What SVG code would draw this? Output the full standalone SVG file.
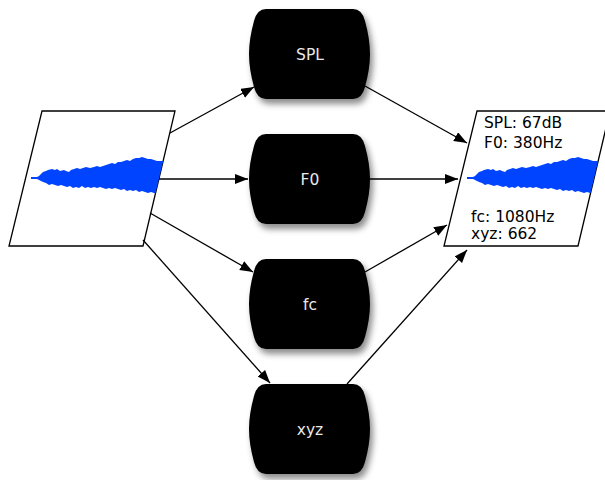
<svg xmlns="http://www.w3.org/2000/svg" width="605" height="480" viewBox="0 0 605 480">
<style>
.para{fill:#fff;stroke:#000;stroke-width:1.3}
.node{fill:#000;filter:url(#sh)}
.nl{font-family:"DejaVu Sans",Verdana,sans-serif;font-size:15.5px;fill:#e8e8e8;text-anchor:middle}
.pl{font-family:"DejaVu Sans",Verdana,sans-serif;font-size:15.5px;fill:#000}
.wave{fill:#0044ff}
.edge{stroke:#000;stroke-width:1.3;fill:none;marker-end:url(#ah)}
</style>
<defs>
<filter id="sh" x="-20%" y="-20%" width="140%" height="150%">
<feDropShadow dx="3" dy="5" stdDeviation="3" flood-color="#000" flood-opacity="0.45"/>
</filter>
<marker id="ah" markerUnits="userSpaceOnUse" markerWidth="14" markerHeight="12" refX="13" refY="5" orient="auto">
<path d="M0,0 L13,5 L0,10 Z" fill="#000"/>
</marker>
<clipPath id="cl"><polygon points="42,111 175,111 143,246 9,246"/></clipPath>
<clipPath id="cr"><polygon points="477,111 610,111 578,246 444,246"/></clipPath>
<path id="wv" class="wave" d="M31,177 L37,177 L39,176 L41,174 L43,172 L46,171 L48,170 L52,169 L55,170 L57,169 L60,171 L64,170 L66,171 L69,172 L71,170 L74,169 L77,168 L80,169 L83,168 L86,167 L90,168 L94,167 L97,166 L100,167 L103,166 L106,165 L109,164 L112,163 L115,164 L118,162 L121,162 L124,161 L127,160 L130,161 L133,159 L136,158 L139,158 L142,157 L145,158 L148,159 L151,159 L154,160 L157,161 L160,161 L166,161 L166,195 L160,193 L157,194 L154,193 L151,192 L148,193 L145,192 L142,191 L139,192 L136,190 L133,191 L130,190 L127,191 L124,189 L121,190 L118,189 L115,188 L112,189 L109,188 L106,189 L103,188 L100,187 L97,188 L94,187 L91,188 L88,187 L85,188 L82,186 L79,188 L76,187 L73,188 L70,186 L67,187 L64,186 L61,185 L58,186 L55,185 L52,184 L49,185 L46,183 L43,182 L41,181 L39,180 L37,179 L31,179 Z"/>
</defs>
<g id="input">
<polygon class="para" points="42,111 175,111 143,246 9,246"/>
<g clip-path="url(#cl)"><use href="#wv"/></g>
</g>
<g id="output">
<polygon class="para" points="477,111 610,111 578,246 444,246"/>
<g clip-path="url(#cr)"><use href="#wv" transform="translate(436,0)"/></g>
<text class="pl" x="484" y="128">SPL: 67dB</text>
<text class="pl" x="484" y="148">F0: 380Hz</text>
<text class="pl" x="471" y="222">fc: 1080Hz</text>
<text class="pl" x="471" y="239">xyz: 662</text>
</g>
<g id="connectors">
<line class="edge" x1="170" y1="133" x2="254" y2="87"/>
<line class="edge" x1="159" y1="179" x2="248" y2="179"/>
<line class="edge" x1="150" y1="213" x2="253" y2="272"/>
<line class="edge" x1="143" y1="240" x2="270" y2="383"/>
<line class="edge" x1="365" y1="86" x2="467" y2="143"/>
<line class="edge" x1="370" y1="179" x2="458" y2="179"/>
<line class="edge" x1="365" y1="272" x2="447" y2="225"/>
<line class="edge" x1="347" y1="384" x2="467" y2="250"/>
</g>
<g id="n-spl">
<path class="node" d="M266,9 L353,9 Q362,9 365,21 Q370,39 370,54 Q370,69 365,87 Q362,99 353,99 L266,99 Q257,99 254,87 Q249,69 249,54 Q249,39 254,21 Q257,9 266,9 Z"/>
<text class="nl" x="310" y="60">SPL</text>
</g>
<g id="n-f0">
<path class="node" d="M266,134 L353,134 Q362,134 365,146 Q370,164 370,179 Q370,194 365,212 Q362,224 353,224 L266,224 Q257,224 254,212 Q249,194 249,179 Q249,164 254,146 Q257,134 266,134 Z"/>
<text class="nl" x="310" y="185">F0</text>
</g>
<g id="n-fc">
<path class="node" d="M266,259 L353,259 Q362,259 365,271 Q370,289 370,304 Q370,319 365,337 Q362,349 353,349 L266,349 Q257,349 254,337 Q249,319 249,304 Q249,289 254,271 Q257,259 266,259 Z"/>
<text class="nl" x="310" y="310">fc</text>
</g>
<g id="n-xyz">
<path class="node" d="M266,384 L353,384 Q362,384 365,396 Q370,414 370,429 Q370,444 365,462 Q362,474 353,474 L266,474 Q257,474 254,462 Q249,444 249,429 Q249,414 254,396 Q257,384 266,384 Z"/>
<text class="nl" x="310" y="435">xyz</text>
</g>
</svg>
